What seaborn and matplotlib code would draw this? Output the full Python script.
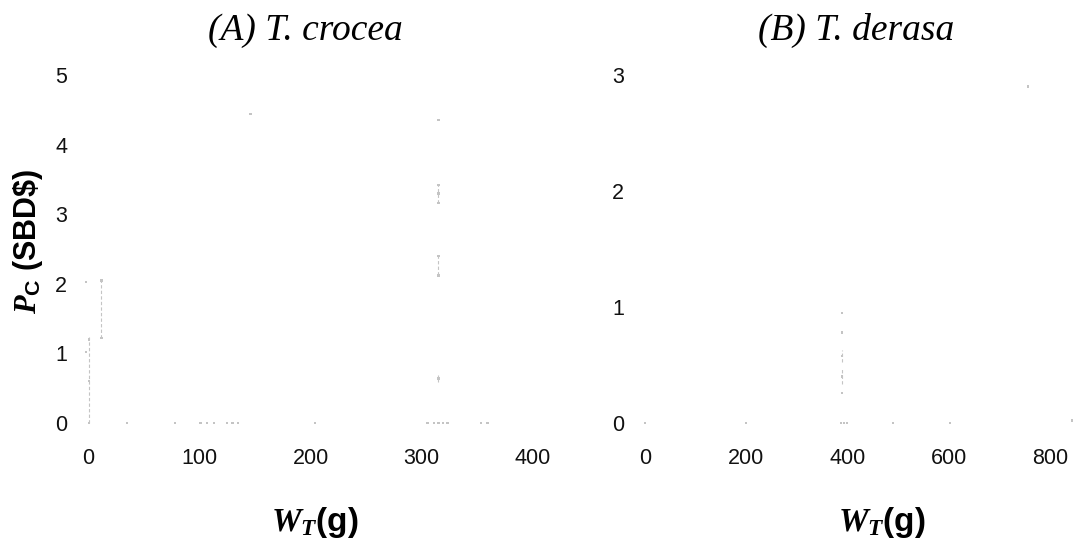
import matplotlib
matplotlib.use("Agg")
import matplotlib.pyplot as plt
import seaborn as sns
import pandas as pd

# -----------------------------
# data (very faint marks)
# -----------------------------
# (A) T. crocea : weight (g) vs price (SBD$)
crocea_w = [1, 1, 1, -2, -2, 12, 12, 35, 78, 101, 107, 113, 125, 130, 135, 146, 204,
            305, 311, 315, 319, 323, 353, 359, 315, 315, 315, 315, 315, 315, 315]
crocea_p = [0.0, 0.6, 1.2, 1.02, 2.03, 1.22, 2.05, 0.0, 0.0, 0.0, 0.0, 0.0, 0.0, 0.0, 0.0, 4.44, 0.0,
            0.0, 0.0, 0.0, 0.0, 0.0, 0.0, 0.0, 4.35, 3.42, 3.30, 3.16, 2.40, 2.12, 0.64]
# faint dashed vertical runs (x, low, high)
crocea_bar_x = [1, 12, 315, 315, 315]
crocea_bar_lo = [0.0, 1.22, 3.16, 2.12, 0.59]
crocea_bar_hi = [1.24, 2.05, 3.42, 2.40, 0.69]

# (B) T. derasa
derasa_w = [0, 200, 387, 393, 399, 490, 602, 843, 757, 389, 389, 389, 389, 389]
derasa_p = [0.0, 0.0, 0.0, 0.0, 0.0, 0.0, 0.0, 0.02, 2.9, 0.95, 0.78, 0.58, 0.40, 0.26]
derasa_bar_x = [389, 389]
derasa_bar_lo = [0.34, 0.53]
derasa_bar_hi = [0.47, 0.63]

df_a = pd.DataFrame({"w": crocea_w, "p": crocea_p})
df_b = pd.DataFrame({"w": derasa_w, "p": derasa_p})

sns.set_theme(style="white")
plt.rcParams["font.family"] = ["Liberation Sans", "DejaVu Sans"]
plt.rcParams["text.color"] = "black"
plt.rcParams["mathtext.fontset"] = "custom"
plt.rcParams["mathtext.it"] = "Liberation Serif:bold:italic"
plt.rcParams["mathtext.rm"] = "Liberation Sans:bold"
plt.rcParams["mathtext.bf"] = "Liberation Sans:bold"

W, H = 1076, 546
fig = plt.figure(figsize=(W / 100, H / 100), dpi=100)

def px_axes(x0, x1, y_top, y_bot):
    return fig.add_axes([x0 / W, (H - y_bot) / H, (x1 - x0) / W, (y_bot - y_top) / H])

ax_a = px_axes(88, 88 + 420 * 445 / 400, 423 - 5.2 * 69.6, 423)
ax_b = px_axes(645, 645 + 850 * 405 / 800, 423 - 3.1 * 116, 423)

mark = "#c4c4c4"
panels = [
    (ax_a, df_a, crocea_bar_x, crocea_bar_lo, crocea_bar_hi, (0, 420), (0, 5.2), [0, 100, 200, 300, 400], [0, 1, 2, 3, 4, 5]),
    (ax_b, df_b, derasa_bar_x, derasa_bar_lo, derasa_bar_hi, (0, 850), (0, 3.1), [0, 200, 400, 600, 800], [0, 1, 2, 3]),
]
for ax, d, bx, blo, bhi, xl, yl, xt, yt in panels:
    sns.scatterplot(data=d, x="w", y="p", ax=ax, s=3, color=mark, edgecolor="none",
                    marker="s", clip_on=False, legend=False)
    ax.vlines(bx, blo, bhi, colors=mark, linestyles=(0, (3, 2)), linewidth=0.8, clip_on=False)
    ax.set_xlim(*xl)
    ax.set_ylim(*yl)
    ax.set_xticks(xt)
    ax.set_yticks(yt)
    ax.tick_params(length=0, labelsize=15.5, colors="#111111")
    ax.tick_params(axis="x", pad=18)
    ax.tick_params(axis="y", pad=15)
    sns.despine(ax=ax, left=True, bottom=True)
    ax.set_xlabel("")
    ax.set_ylabel("")

# titles, axis labels
title_kw = dict(ha="center", va="baseline", fontsize=27, family=["Liberation Serif"], style="italic")
fig.text(305 / W, 1 - 40 / H, "(A) T. crocea", **title_kw)
fig.text(856 / W, 1 - 40 / H, "(B) T. derasa", **title_kw)

fig.text(315 / W, 1 - 523 / H, r"$W_T$(g)", ha="center", va="center", fontsize=24, fontweight="bold")
fig.text(882 / W, 1 - 523 / H, r"$W_T$(g)", ha="center", va="center", fontsize=24, fontweight="bold")
fig.text(28 / W, 1 - 241 / H, r"$P_\mathrm{C}$ (SBD\$)", ha="center", va="center",
         rotation=90, fontsize=22, fontweight="bold")

fig.savefig("out.png", dpi=100, facecolor="white")
